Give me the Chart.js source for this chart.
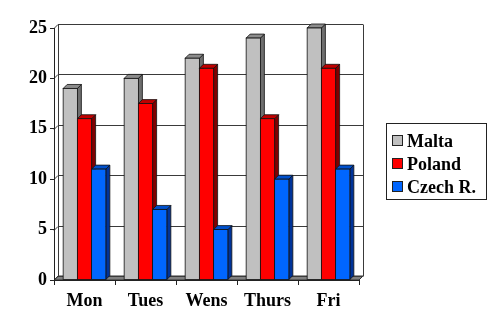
<!DOCTYPE html>
<html>
<head>
<meta charset="utf-8">
<script src="https://cdn.jsdelivr.net/npm/chart.js@4/dist/chart.umd.min.js"></script>
<style>
html,body{margin:0;padding:0;background:#fff;}
#wrap{width:490px;height:327px;position:relative;}
</style>
</head>
<body>
<div id="wrap"><canvas id="c" width="490" height="327"></canvas></div>
<script>
const categories = ["Mon", "Tues", "Wens", "Thurs", "Fri"];
const seriesNames = ["Malta", "Poland", "Czech R."];
const malta = [19, 20, 22, 24, 25];
const poland = [16, 17.5, 21, 16, 21];
const czech = [11, 7, 5, 10, 11];
const yTicks = [0, 5, 10, 15, 20, 25];

const FONT = "'Liberation Serif', 'Times New Roman', serif";
const DEPTH = 4;
const faceColors = [
  {front: "#C0C0C0", side: "#6E6E6E", top: "#8C8C8C"},
  {front: "#FF0000", side: "#800000", top: "#C00000"},
  {front: "#0066FF", side: "#003399", top: "#0050CC"}
];

const threeD = {
  id: "threeD",
  beforeDatasetsDraw(chart) {
    const ctx = chart.ctx, a = chart.chartArea, y = chart.scales.y;
    const d = DEPTH;
    ctx.save();
    ctx.lineWidth = 1;
    ctx.fillStyle = "#808080";
    ctx.strokeStyle = "#333";
    ctx.beginPath();
    ctx.moveTo(a.left, a.bottom);
    ctx.lineTo(a.right, a.bottom);
    ctx.lineTo(a.right + d, a.bottom - d);
    ctx.lineTo(a.left + d, a.bottom - d);
    ctx.closePath();
    ctx.fill();
    ctx.stroke();
    ctx.strokeStyle = "#3a3a3a";
    yTicks.forEach(v => {
      const py = Math.round(y.getPixelForValue(v)) + 0.5;
      ctx.beginPath();
      ctx.moveTo(a.left, py);
      ctx.lineTo(a.left + d, py - d);
      ctx.lineTo(a.right + d, py - d);
      ctx.stroke();
    });
    const top = Math.round(y.getPixelForValue(25)) + 0.5 - d;
    const bot = Math.round(y.getPixelForValue(0)) + 0.5 - d;
    ctx.beginPath();
    ctx.moveTo(a.left + d + 0.5, top); ctx.lineTo(a.left + d + 0.5, bot);
    ctx.moveTo(a.right + d + 0.5, top); ctx.lineTo(a.right + d + 0.5, bot);
    ctx.stroke();
    ctx.restore();
  },
  afterDatasetsDraw(chart) {
    const ctx = chart.ctx, d = DEPTH;
    ctx.save();
    ctx.lineWidth = 0.8;
    ctx.strokeStyle = "#111";
    chart.data.datasets.forEach((ds, i) => {
      const meta = chart.getDatasetMeta(i);
      const c = faceColors[i];
      meta.data.forEach(el => {
        const p = el.getProps(["x", "y", "base", "width"], true);
        const l = p.x - p.width / 2, r = p.x + p.width / 2;
        const t = p.y, b = p.base;
        ctx.fillStyle = c.side;
        ctx.beginPath();
        ctx.moveTo(r, b); ctx.lineTo(r + d, b - d); ctx.lineTo(r + d, t - d); ctx.lineTo(r, t);
        ctx.closePath(); ctx.fill(); ctx.stroke();
        ctx.fillStyle = c.top;
        ctx.beginPath();
        ctx.moveTo(l, t); ctx.lineTo(l + d, t - d); ctx.lineTo(r + d, t - d); ctx.lineTo(r, t);
        ctx.closePath(); ctx.fill(); ctx.stroke();
        ctx.fillStyle = c.front;
        ctx.fillRect(l, t, r - l, b - t);
        ctx.strokeRect(l, t, r - l, b - t);
      });
    });
    ctx.restore();
  },
  afterDraw(chart) {
    const ctx = chart.ctx, a = chart.chartArea;
    ctx.save();
    ctx.strokeStyle = "#222";
    ctx.lineWidth = 1;
    ctx.beginPath();
    ctx.moveTo(Math.round(a.left) + 0.5, a.top);
    ctx.lineTo(Math.round(a.left) + 0.5, a.bottom);
    ctx.moveTo(a.left, Math.round(a.bottom) + 0.5);
    ctx.lineTo(a.right, Math.round(a.bottom) + 0.5);
    ctx.stroke();
    const lx = 386.5, ly = 123.5, lw = 100, lh = 76;
    ctx.fillStyle = "#fff";
    ctx.fillRect(lx, ly, lw, lh);
    ctx.strokeStyle = "#222";
    ctx.strokeRect(lx, ly, lw, lh);
    ctx.font = "bold 18px " + FONT;
    ctx.textBaseline = "middle";
    ctx.textAlign = "left";
    chart.data.datasets.forEach((ds, i) => {
      const cy = 141 + i * 23;
      ctx.fillStyle = faceColors[i].front;
      ctx.fillRect(392.5, cy - 5.5, 10, 10);
      ctx.strokeStyle = "#222";
      ctx.strokeRect(392.5, cy - 5.5, 10, 10);
      ctx.fillStyle = "#000";
      ctx.fillText(ds.label, 407, cy + 1);
    });
    ctx.restore();
  }
};

new Chart(document.getElementById("c"), {
  type: "bar",
  data: {
    labels: categories,
    datasets: [
      {label: seriesNames[0], data: malta, backgroundColor: "rgba(0,0,0,0)"},
      {label: seriesNames[1], data: poland, backgroundColor: "rgba(0,0,0,0)"},
      {label: seriesNames[2], data: czech, backgroundColor: "rgba(0,0,0,0)"}
    ]
  },
  options: {
    responsive: false,
    animation: false,
    events: [],
    layout: {padding: {top: 28, left: 0, right: 131, bottom: 0}},
    plugins: {legend: {display: false}, tooltip: {enabled: false}},
    datasets: {bar: {categoryPercentage: 0.7, barPercentage: 1, borderWidth: 0}},
    scales: {
      x: {
        afterFit: s => { s.height = 47; },
        grid: {drawOnChartArea: false, drawTicks: true, tickLength: 5, color: "#222", offset: true},
        border: {display: false},
        ticks: {color: "#000", padding: 6, font: {family: FONT, size: 18, weight: "bold"}}
      },
      y: {
        min: 0, max: 25,
        afterFit: s => { s.width = 54; },
        afterBuildTicks: s => { s.ticks = yTicks.map(v => ({value: v})); },
        grid: {drawOnChartArea: false, drawTicks: true, tickLength: 4, color: "#222"},
        border: {display: false},
        ticks: {color: "#000", padding: 3, font: {family: FONT, size: 18, weight: "bold"}}
      }
    }
  },
  plugins: [threeD]
});
</script>
</body>
</html>
